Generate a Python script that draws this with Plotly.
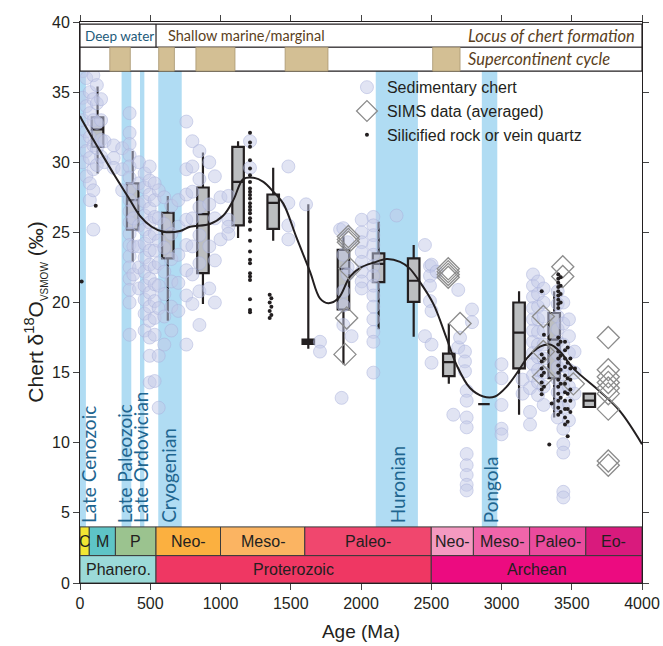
import plotly.graph_objects as go

# ---------------- DATA ----------------
# Sedimentary chert: column ages (Ma) and the d18O values stacked at each age
chert_col_age = [20, 45, 70, 95, 120, 150, 175, 240, 300, 353, 380, 420, 460, 496, 531,
                 560, 600, 650, 700, 757, 800, 850, 920, 960, 1000, 1056, 1210, 1483, 1609,
                 1708, 1851, 1862, 1874, 1905, 1933, 2005, 2088, 2253, 2455, 2491, 2502, 2538,
                 2657, 2692, 2705, 2740, 2752, 2790, 3000, 3150, 3203, 3224, 3260, 3300,
                 3400, 3440, 3480, 3520]
chert_col_vals = [
    [36.5, 34.6, 33.0, 31.5, 30.0],
    [37.4, 36.0, 34.0, 32.2, 30.8, 29.0],
    [37.0, 35.0, 33.5, 31.8, 30.3, 28.5, 27.3],
    [36.2, 34.5, 33.0, 31.2, 29.5, 28.0, 25.2],
    [35.5, 34.2, 32.8, 31.0, 29.8],
    [34.5, 33.0, 31.6, 30.4],
    [31.5, 30.0],
    [31.2, 30.3, 29.6],
    [31.0, 29.5, 28.0],
    [33.5, 32.1, 31.3, 30.5, 29.7, 28.9, 28.1, 27.3, 26.5, 25.7, 24.9, 24.1, 23.3, 22.5, 21.7, 20.9, 20.0, 17.7],
    [26.0, 24.0, 22.0],
    [30.0, 28.5, 27.0, 25.5, 24.0, 22.5, 21.0],
    [29.2, 28.2, 27.2, 26.2, 25.2, 24.2, 23.2, 22.2, 21.2, 20.2, 19.2, 18.0],
    [29.7, 28.7, 27.7, 26.7, 25.7, 24.7, 23.7, 22.7, 21.7, 20.7, 19.7, 18.7, 17.5, 16.2, 14.3],
    [28.5, 27.3, 26.1, 24.9, 23.7, 22.5, 21.3, 20.1, 18.9, 17.7, 14.4],
    [28.0, 26.0, 24.4, 22.8, 21.2, 19.6, 16.2, 12.5],
    [27.5, 25.6, 23.9, 22.2, 20.6, 19.0, 17.0],
    [26.9, 24.9, 23.1, 21.5, 19.7, 18.0],
    [27.3, 25.4, 23.4, 21.4, 19.4],
    [32.9, 29.5, 27.7, 25.9, 24.1, 22.3, 20.5, 17.0],
    [31.5, 29.7, 27.9, 26.0, 24.0, 22.0, 19.9],
    [30.8, 28.8, 26.8, 24.8, 22.8, 20.8, 18.4],
    [30.0, 27.0, 24.0, 21.0],
    [29.0, 26.0, 23.0, 20.0],
    [27.5, 24.5],
    [27.6, 25.9, 25.4, 24.9],
    [31.5, 29.6],
    [29.7, 27.1, 25.5, 24.5],
    [27.0],
    [17.2, 16.5],
    [25.2],
    [13.2],
    [25.3, 23.4, 20.8, 19.8, 18.4],
    [24.3, 22.5, 22.0],
    [17.6],
    [25.9, 25.0, 24.3, 23.6, 22.9, 22.2, 21.5, 21.0],
    [26.1, 25.5, 24.8, 24.1, 23.4, 22.6, 21.9, 21.2, 20.5, 19.7, 18.8, 17.9, 17.2, 15.0],
    [26.2],
    [24.1, 17.6],
    [22.6, 21.9, 21.2, 20.1],
    [22.7, 19.4, 17.0, 15.7],
    [22.2],
    [12.0],
    [20.9, 16.8],
    [17.5],
    [16.5, 15.8, 15.1],
    [13.7, 13.0, 11.8, 11.1, 9.2, 8.4, 7.7, 7.0, 6.6],
    [19.5, 18.6],
    [15.6, 14.6, 12.7, 11.0, 10.6],
    [14.5, 13.5],
    [13.9, 12.2, 11.3],
    [22.0, 21.2, 20.4, 19.6, 18.8, 18.0, 17.2, 16.4, 15.6, 14.8],
    [21.5, 20.6, 19.7, 18.8, 17.9, 17.0, 16.1, 15.2, 14.3, 13.4],
    [21.0, 20.0, 19.0, 18.0, 17.0, 16.0, 15.0, 14.0, 12.7],
    [20.8, 19.9, 19.0, 18.1, 17.2, 16.3, 15.4, 14.5, 13.6, 12.7, 11.8],
    [20.0, 18.5, 17.0, 15.5, 14.0, 12.5, 11.0, 9.9, 9.3, 6.5, 6.1],
    [18.8, 17.6, 16.4, 15.2, 14.0, 12.8, 11.6],
    [16.5, 15.0, 13.5],
]

# SIMS data (averaged)
sims_age = [1910, 1910, 1910, 1920, 1898, 1886, 2621, 2621, 2621, 2621, 2705,
            3436, 3436, 3298, 3298, 3298, 3511,
            3760, 3760, 3760, 3760, 3760, 3760, 3760, 3760, 3760]
sims_val = [24.3, 24.5, 24.7, 22.4, 18.9, 16.3, 21.8, 22.0, 22.2, 22.4, 18.5,
            22.55, 21.85, 19.0, 16.5, 14.7, 14.2,
            17.5, 15.2, 14.7, 14.3, 13.9, 13.5, 12.4, 8.4, 8.7]

# Silicified rock or vein quartz
dot_age = ([12, 112] + [1210] * 28 + [1350] * 4 + [1362] * 3 +
           [3286] * 8 + [3302] * 4 + [3340, 3357] + [3404] * 21 + [3421] * 10 +
           [3452] * 11 + [3471] * 7 + [3490] * 6 + [3523])
dot_val = ([21.5, 26.9] +
           [32.1, 31.4, 31.1, 30.15, 29.56, 29.08, 28.6, 28.13, 27.9, 27.66, 27.42, 27.07,
            26.83, 26.6, 26.36, 26.0, 25.77, 25.18, 24.4, 23.63, 23.04, 22.8, 22.08, 21.85,
            21.6, 20.24, 19.47, 19.3] +
           [20.55, 20.0, 19.4, 18.9] + [20.3, 19.7, 19.1] +
           [20.8, 16.3, 15.8, 15.3, 14.8, 14.3, 13.8, 13.45] + [17.7, 16.0, 15.0, 14.0] +
           [9.87, 12.8] +
           [22.0, 21.7, 21.4, 21.1, 20.8, 20.5, 20.2, 19.9, 19.6, 17.5, 17.0, 16.5, 16.0,
            15.5, 15.0, 14.5, 14.0, 13.5, 13.0, 12.5, 12.0] +
           [21.8, 21.2, 20.6, 20.0, 17.2, 16.2, 15.2, 14.2, 13.2, 12.2] +
           [17.2, 16.6, 16.0, 15.4, 14.8, 14.2, 13.6, 13.0, 12.4, 11.8, 11.3] +
           [16.8, 15.7, 14.6, 13.5, 12.4, 11.5, 10.46] +
           [16.0, 15.3, 14.5, 13.8, 13.0, 12.2] + [15.3])

# Box plots per 250 Myr bin
box_age = [125, 375, 625, 875, 1125, 1375, 1625, 1875, 2125, 2375, 2625, 2875, 3125, 3375, 3625]
box_q1 = [31.1, 25.2, 23.15, 22.1, 25.5, 25.25, 17.05, 19.5, 21.45, 20.05, 14.75, 12.75, 15.3, 14.6, 12.55]
box_med = [32.35, 27.3, 25.05, 26.3, 28.6, 27.1, 17.2, 22.4, 22.75, 21.55, 15.75, 12.75, 17.85, 17.35, 13.0]
box_q3 = [33.2, 28.5, 26.4, 28.2, 31.1, 27.7, 17.35, 23.75, 23.5, 23.15, 16.35, 12.75, 20.0, 19.25, 13.5]
box_lo = [29.2, 22.9, 18.7, 19.9, 24.6, 24.4, 16.7, 15.6, 18.1, 17.55, 14.2, 12.75, 12.0, 11.8, 12.55]
box_hi = [35.4, 30.8, 27.6, 30.7, 31.5, 29.6, 27.0, 24.7, 25.75, 24.1, 18.5, 12.75, 20.8, 20.8, 13.5]

# Smoothed trend
curve_age = [0, 12, 137, 250, 344, 425, 510, 593, 712, 783, 925, 1020, 1091, 1162, 1233, 1305,
             1376, 1447, 1542, 1637, 1708, 1767, 1839, 1922, 2000, 2093, 2183, 2278, 2344, 2420,
             2515, 2609, 2680, 2776, 2870, 2954, 3037, 3132, 3179, 3274, 3345, 3416, 3511, 3701,
             3843, 4000]
curve_val = [33.3, 33.05, 30.9, 29.0, 27.5, 26.2, 25.4, 25.05, 25.1, 25.4, 25.6, 26.2, 27.3,
             28.8, 28.9, 28.6, 27.9, 27.05, 24.6, 22.2, 20.3, 19.95, 20.3, 21.85, 22.5, 22.85,
             23.1, 22.9, 22.45, 21.45, 19.9, 17.45, 15.55, 13.9, 13.3, 13.3, 14.0, 15.3, 16.0,
             16.85, 17.0, 16.5, 15.3, 13.65, 12.25, 9.9]

# Glaciations
glac_names = ["Late Cenozoic", "Late Paleozoic", "Late Ordovician", "Cryogenian", "Huronian", "Pongola"]
glac_start = [0, 296, 427, 557, 2105, 2860]
glac_end = [42, 365, 458, 724, 2405, 2970]
glac_label_x = [62, 313, 436, 630, 2256, 2918]

# Supercontinents
sc_start = [212, 560, 825, 1460, 2510]
sc_end = [358, 672, 1103, 1765, 2705]

# Geologic time scale
era_names = ["C", "M", "P", "Neo-", "Meso-", "Paleo-", "Neo-", "Meso-", "Paleo-", "Eo-"]
era_start = [0, 66, 252, 541, 1000, 1600, 2500, 2800, 3200, 3600]
era_end = [66, 252, 541, 1000, 1600, 2500, 2800, 3200, 3600, 4000]
era_colors = ["#f2e633", "#5ec4c6", "#9bc38f", "#fbb040", "#fbb462", "#f0476e",
              "#f49ac1", "#f065aa", "#ea4b9d", "#d91a7d"]
eon_names = ["Phanero.", "Proterozoic", "Archean"]
eon_start = [0, 541, 2500]
eon_end = [541, 2500, 4000]
eon_colors = ["#9bdad8", "#ef3763", "#ec0b80"]

x_ticks = [0, 500, 1000, 1500, 2000, 2500, 3000, 3500, 4000]
y_ticks = [0, 5, 10, 15, 20, 25, 30, 35, 40]

# ---------------- FIGURE ----------------
FONT = "Liberation Sans"
LAB = "Lato"
ink = "#231f20"

chert_x, chert_y = [], []
for a, vals in zip(chert_col_age, chert_col_vals):
    for v in vals:
        chert_x.append(a)
        chert_y.append(v)

fig = go.Figure()

fig.add_trace(go.Scatter(
    x=chert_x, y=chert_y, mode="markers", name="Sedimentary chert", legendrank=1,
    marker=dict(size=13, color="rgba(196,201,232,0.5)",
                line=dict(color="rgba(170,178,220,0.5)", width=1))))

fig.add_trace(go.Box(
    x=box_age, q1=box_q1, median=box_med, q3=box_q3, lowerfence=box_lo, upperfence=box_hi,
    width=82, whiskerwidth=0, fillcolor="#bcbec0", line=dict(color=ink, width=2.2),
    boxpoints=False, showlegend=False, hoverinfo="skip"))

fig.add_trace(go.Scatter(
    x=curve_age, y=curve_val, mode="lines", line=dict(color=ink, width=2, shape="spline"),
    showlegend=False, hoverinfo="skip"))

fig.add_trace(go.Scatter(
    x=sims_age, y=sims_val, mode="markers", name="SIMS data (averaged)", legendrank=2,
    marker=dict(symbol="diamond-open", size=17, color="#8c8c8c", line=dict(width=1.3))))

fig.add_trace(go.Scatter(
    x=dot_age, y=dot_val, mode="markers", name="Silicified rock or vein quartz", legendrank=3,
    marker=dict(size=4, color=ink)))

shapes = []
annotations = []

# glaciation bands
for n, s, e, lx in zip(glac_names, glac_start, glac_end, glac_label_x):
    shapes.append(dict(type="rect", xref="x", yref="y", x0=s, x1=e, y0=4, y1=36.5,
                       fillcolor="#b0dcf3", line=dict(width=0), layer="below"))
    annotations.append(dict(x=lx, y=4.15, xref="x", yref="y", text=n, textangle=-90,
                            showarrow=False, xanchor="center", yanchor="bottom",
                            font=dict(family=LAB, size=19, color="#1f6690")))

# top bands
shapes.append(dict(type="rect", xref="x", yref="y", x0=0, x1=4000, y0=38.2, y1=39.85,
                   fillcolor="white", line=dict(color=ink, width=1.2)))
shapes.append(dict(type="rect", xref="x", yref="y", x0=0, x1=4000, y0=36.5, y1=38.2,
                   fillcolor="white", line=dict(color=ink, width=1.2)))
shapes.append(dict(type="line", xref="x", yref="y", x0=541, x1=541, y0=38.2, y1=39.85,
                   line=dict(color=ink, width=1.2)))
for s, e in zip(sc_start, sc_end):
    shapes.append(dict(type="rect", xref="x", yref="y", x0=s, x1=e, y0=36.5, y1=38.2,
                       fillcolor="#d3bf94", line=dict(color="#a89570", width=0.8)))
brown = "#5b3f1d"
top_texts = [
    dict(x=18, y=39.02, text="Deep water", xanchor="left", font=dict(family=LAB, size=13.5, color="#1d5a7a")),
    dict(x=610, y=39.02, text="Shallow marine/marginal", xanchor="left", font=dict(family=LAB, size=14.5, color=brown)),
    dict(x=3965, y=39.02, text="<i>Locus of chert formation</i>", xanchor="right", font=dict(family=LAB, size=16.5, color=brown)),
    dict(x=2750, y=37.35, text="<i>Supercontinent cycle</i>", xanchor="left", font=dict(family=LAB, size=16.5, color=brown)),
]
for a in top_texts:
    a.update(xref="x", yref="y", showarrow=False, yanchor="middle")
annotations += top_texts

# y-axis title
annotations.append(dict(
    x=-0.08, y=0.482, xref="paper", yref="paper", textangle=-90, showarrow=False,
    xanchor="center", yanchor="middle",
    text="Chert δ<sup>18</sup>O<sub><span style='font-size:10px'>VSMOW</span></sub> (‰)",
    font=dict(family=FONT, size=21, color=ink)))

# geologic time scale
for n, s, e, c in zip(era_names, era_start, era_end, era_colors):
    shapes.append(dict(type="rect", xref="x", yref="y", x0=s, x1=e, y0=1.95, y1=4.0,
                       fillcolor=c, line=dict(color="#3a3a3a", width=1)))
    annotations.append(dict(x=(s + e) / 2, y=2.97, xref="x", yref="y", text=n, showarrow=False,
                            font=dict(family=FONT, size=16, color=ink)))
for n, s, e, c in zip(eon_names, eon_start, eon_end, eon_colors):
    shapes.append(dict(type="rect", xref="x", yref="y", x0=s, x1=e, y0=0, y1=1.95,
                       fillcolor=c, line=dict(color="#3a3a3a", width=1)))
    annotations.append(dict(x=(s + e) / 2, y=0.97, xref="x", yref="y", text=n, showarrow=False,
                            font=dict(family=FONT, size=16, color=ink)))

fig.update_layout(
    width=663, height=646, margin=dict(l=80, r=21, t=22, b=63, autoexpand=False),
    plot_bgcolor="white", paper_bgcolor="white",
    shapes=shapes, annotations=annotations,
    font=dict(family=FONT, size=16, color=ink),
    legend=dict(x=0.475, y=0.914, xanchor="left", yanchor="top", bgcolor="rgba(0,0,0,0)",
                font=dict(family=FONT, size=16, color=ink), itemsizing="trace",
                tracegroupgap=0),
    xaxis=dict(range=[0, 4000], tickvals=x_ticks, ticks="outside", ticklen=6,
               showline=True, linecolor=ink, linewidth=1, mirror="ticks", showgrid=False,
               zeroline=False, tickfont=dict(size=16), automargin=False,
               title=dict(text="Age (Ma)", font=dict(size=19), standoff=13)),
    yaxis=dict(range=[0, 40], tickvals=y_ticks, ticks="outside", ticklen=6,
               showline=True, linecolor=ink, linewidth=1, mirror="ticks", showgrid=False,
               zeroline=False, tickfont=dict(size=16), automargin=False),
)

fig.write_html("out.html", config={"displayModeBar": False},
               post_script="document.body.style.margin='0px';")
